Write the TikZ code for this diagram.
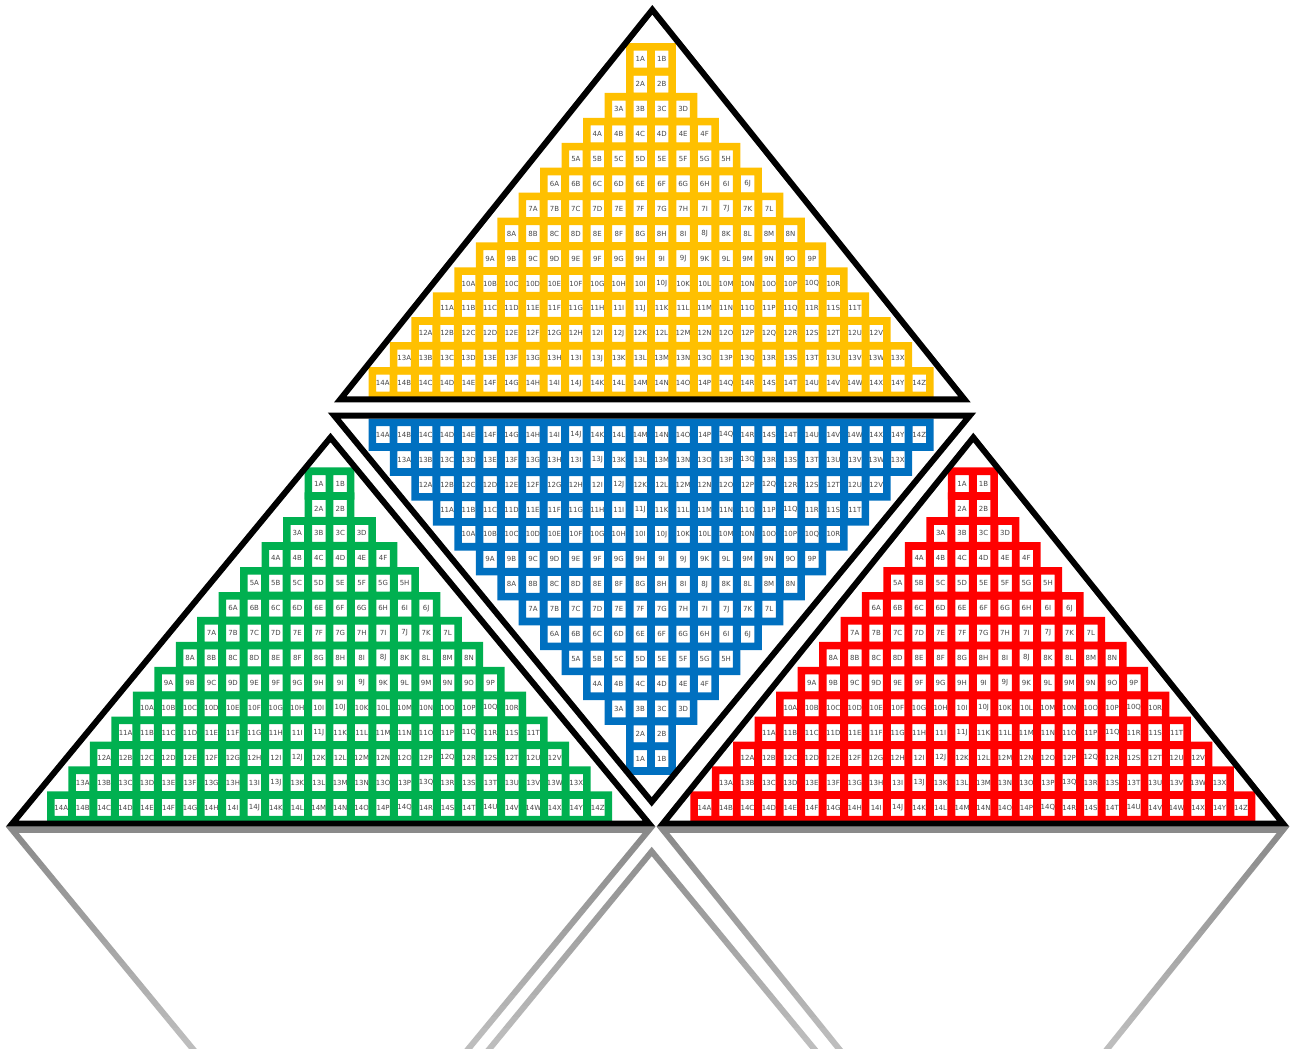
\documentclass[tikz,border=0pt]{standalone}
\usepackage{fontspec}
\newfontfamily\lblfont{DejaVu Sans}
\definecolor{cyel}{HTML}{FFC000}
\definecolor{cblu}{HTML}{0070C0}
\definecolor{cgrn}{HTML}{00B050}
\definecolor{cred}{HTML}{FF0000}
\tikzset{
  lbl/.style={font=\lblfont\fontsize{7}{8}\selectfont, text=black!72, inner sep=0pt, anchor=center},
  tri/.style={draw=black, line width=6pt, line join=miter},
  refl/.style={draw=black!46, line width=6pt, line join=miter},
}
% #1 name, #2 centre x, #3 y of row 1, #4 row pitch (signed), #5 colour
\newcommand\pyrcells[5]{%
  \foreach \n in {1,...,14}{%
    \pgfmathsetmacro\cy{#3+(\n-1)*(#4)}%
    \pgfmathtruncatemacro\m{\n==1 ? 2 : 2*(\n-1)}%
    \foreach \j in {1,...,\m}{%
      \pgfmathsetmacro\cx{#2+(\j-(\m+1)/2)*21.46}%
      \node[lbl] (#1-\n-\j) at (\cx,\cy) {\n\char\numexpr64+\j\relax};
    }%
  }%
  \foreach \n in {1,...,14}{%
    \pgfmathsetmacro\cy{#3+(\n-1)*(#4)}%
    \pgfmathtruncatemacro\m{\n==1 ? 2 : 2*(\n-1)}%
    \pgfmathsetmacro\hw{(\m-1)/2*21.46+14.25}%
    \fill[#5, even odd rule] (#2-\hw,\cy-16.1) rectangle (#2+\hw,\cy+16.1)
      \foreach \j [evaluate=\j as \cx using #2+(\j-(\m+1)/2)*21.46] in {1,...,\m}{
        (\cx-6.75,\cy-8.5) rectangle (\cx+6.75,\cy+8.5)
      };
  }%
}
\begin{document}
\begin{tikzpicture}[x=1pt,y=-1pt]
\useasboundingbox[fill=white] (0,0) rectangle (1290,1049);

% coloured cell blocks
\pyrcells{y}{651}{59.2}{24.92}{cyel}
\pyrcells{b}{651}{758.7}{-24.92}{cblu}
\pyrcells{g}{329.5}{483.5}{24.92}{cgrn}
\pyrcells{r}{972.8}{483.5}{24.92}{cred}

% triangle corners
\coordinate (ta) at (652.3,9.8);
\coordinate (tr) at (964.4,399.3);
\coordinate (tl) at (340.3,399.3);
\coordinate (bl) at (334.3,415.7);
\coordinate (br) at (969.7,415.7);
\coordinate (bb) at (651.7,801.9);
\coordinate (ga) at (330.5,437.5);
\coordinate (gr) at (649,823.5);
\coordinate (gl) at (12.3,823.5);
\coordinate (ra) at (973.3,437.5);
\coordinate (rr) at (1283,823.5);
\coordinate (rl) at (663,823.5);

\draw[tri] (ta) -- (tr) -- (tl) -- cycle;
\draw[tri] (bl) -- (br) -- (bb) -- cycle;
\draw[tri] (ga) -- (gr) -- (gl) -- cycle;
\draw[tri] (ra) -- (rr) -- (rl) -- cycle;

% reflection
\begin{scope}
\clip (0,826.7) rectangle (1290,1049);
\draw[refl] (210.2,1070) -- (12.3,829.9) -- (649,829.9) -- (450.9,1070);
\draw[refl] (856.0,1070) -- (663,829.9) -- (1283,829.9) -- (1090.4,1070);
\draw[refl] (472.1,1070) -- (651.7,851.5) -- (831.6,1070);
\foreach \k [evaluate=\k as \op using \k*0.022] in {1,...,20}{
  \fill[white, opacity=\op] (0,834+\k*10.75-10.75) rectangle (1290,834+\k*10.75);
}
\end{scope}
\end{tikzpicture}
\end{document}
